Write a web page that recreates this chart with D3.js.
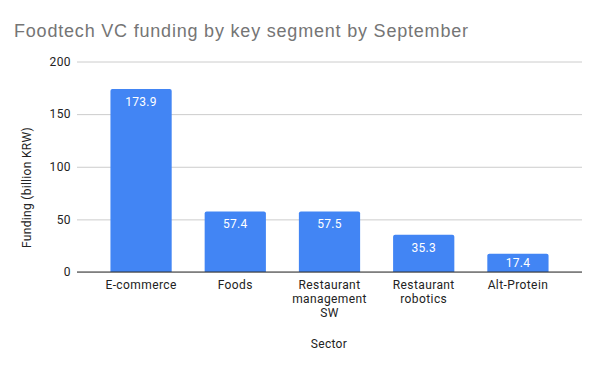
<!DOCTYPE html>
<html>
<head>
<meta charset="utf-8">
<script src="https://cdn.jsdelivr.net/npm/d3@7"></script>
<style>
  body { margin: 0; background: #fff; }
  text { font-family: Roboto, Arial, sans-serif; }
</style>
</head>
<body>
<div class="plot"></div>
<script>
// chart data
var sectors = ["E-commerce", "Foods", "Restaurant management SW", "Restaurant robotics", "Alt-Protein"];
var sectorLines = [["E-commerce"], ["Foods"], ["Restaurant", "management", "SW"], ["Restaurant", "robotics"], ["Alt-Protein"]];
var funding = [173.9, 57.4, 57.5, 35.3, 17.4];
var yTicks = [0, 50, 100, 150, 200];

var W = 600, H = 371;
var m = {t:61.5, r:18, b:99, l:77};

var svg = d3.select('.plot')
	.append('svg')
	.attr('width', W)
	.attr('height', H);

var x = d3.scaleBand()
	.domain(sectors)
	.range([m.l, W - m.r])
	.paddingInner(0.35)
	.paddingOuter(0.355);

var y = d3.scaleLinear()
	.domain([0, 200])
	.range([H - m.b, m.t]);

// title
svg.append('text')
	.attr('x', 14)
	.attr('y', 37)
	.style('font-family', '"Liberation Sans", Arial, sans-serif')
	.style('font-size', '18px')
	.style('letter-spacing', '0.8px')
	.style('fill', '#757575')
	.text('Foodtech VC funding by key segment by September');

// gridlines + y labels
var yAxis = d3.axisLeft(y).tickValues(yTicks).tickSize(-(W - m.r - m.l)).tickPadding(6);
var gy = svg.append('g')
	.attr('transform', 'translate(' + m.l + ',0)')
	.call(yAxis);
gy.select('.domain').remove();
gy.selectAll('line').attr('stroke', '#cccccc');
gy.selectAll('text')
	.style('font-size', '12px')
	.style('fill', '#222')
	.style('letter-spacing', '0.4px')
	.style('font-family', 'Roboto, Arial, sans-serif');

// bars with rounded top corners
function barPath(x0, y0, w, h, r) {
	r = Math.min(r, h);
	return 'M' + x0 + ',' + (y0 + h) +
		'V' + (y0 + r) +
		'Q' + x0 + ',' + y0 + ' ' + (x0 + r) + ',' + y0 +
		'H' + (x0 + w - r) +
		'Q' + (x0 + w) + ',' + y0 + ' ' + (x0 + w) + ',' + (y0 + r) +
		'V' + (y0 + h) + 'Z';
}

svg.selectAll('.bar')
	.data(funding)
	.enter()
	.append('path')
	.attr('class', 'bar')
	.attr('d', function(d, i){
		return barPath(x(sectors[i]), y(d), x.bandwidth(), y(0) - y(d), 2);
	})
	.style('fill', '#4285f4');

svg.selectAll('.val')
	.data(funding)
	.enter()
	.append('text')
	.attr('class', 'val')
	.attr('x', function(d, i){ return x(sectors[i]) + x.bandwidth() / 2; })
	.attr('y', function(d){ return Math.min(y(d) + 12.5, y(0) - 9); })
	.attr('dy', '0.35em')
	.attr('text-anchor', 'middle')
	.style('font-size', '12px')
	.style('fill', '#fff')
	.style('letter-spacing', '0.3px')
	.text(function(d){ return d3.format('.1f')(d); });

// baseline
svg.append('line')
	.attr('x1', m.l)
	.attr('x2', W - m.r)
	.attr('y1', y(0))
	.attr('y2', y(0))
	.attr('stroke', '#333')
	.attr('stroke-width', 1);

// x labels
var xl = svg.selectAll('.xlab')
	.data(sectorLines)
	.enter()
	.append('text')
	.attr('class', 'xlab')
	.attr('text-anchor', 'middle')
	.attr('transform', function(d, i){
		return 'translate(' + (x(sectors[i]) + x.bandwidth() / 2) + ',' + (y(0) + 13) + ')';
	})
	.style('font-size', '12px')
	.style('fill', '#222')
	.style('letter-spacing', '0.4px');
xl.selectAll('tspan')
	.data(function(d){ return d; })
	.enter()
	.append('tspan')
	.attr('x', 0)
	.attr('y', function(d, j){ return j * 14; })
	.attr('dy', '0.35em')
	.text(function(d){ return d; });

// axis titles
svg.append('text')
	.attr('transform', 'translate(27,187.5) rotate(-90)')
	.attr('text-anchor', 'middle')
	.attr('dy', '0.35em')
	.style('font-size', '12px')
	.style('fill', '#222')
	.style('letter-spacing', '0.3px')
	.text('Funding (billion KRW)');

svg.append('text')
	.attr('x', 329)
	.attr('y', 344)
	.attr('dy', '0.35em')
	.attr('text-anchor', 'middle')
	.style('font-size', '12px')
	.style('fill', '#222')
	.style('letter-spacing', '0.3px')
	.text('Sector');
</script>
</body>
</html>
